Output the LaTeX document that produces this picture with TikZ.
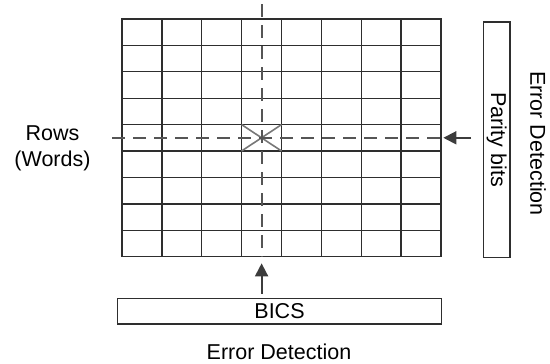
\documentclass[tikz,border=0pt]{standalone}
\usepackage{fontspec}
\setmainfont{Liberation Sans}
\usetikzlibrary{arrows.meta}
\definecolor{gridc}{HTML}{2E2E2E}
\definecolor{dashc}{HTML}{555555}
\definecolor{xc}{HTML}{777777}
\definecolor{arrc}{HTML}{3C3C3C}
\begin{document}
\begin{tikzpicture}[x=1pt,y=-1pt,
  gridline/.style={draw=gridc, line width=1.3pt},
  dashline/.style={draw=dashc, line width=1.8pt, dash pattern=on 13pt off 8pt},
  xline/.style={draw=xc, line width=1.6pt},
  arr/.style={draw=arrc, line width=1.8pt, -{Triangle[length=13pt,width=13pt]}},
  box/.style={draw=gridc, line width=1.3pt, inner sep=0pt},
  lbl/.style={font=\fontsize{21.5}{26.3}\selectfont, inner sep=0pt, text=black}]
\useasboundingbox (0,0) rectangle (550,364);
% grid
\node[box, minimum width=319pt, minimum height=237.7pt] (grid) at (281.5,137.85) {};
\foreach \i in {1,...,7}
  \draw[gridline] ({122+\i*39.875},19) -- ({122+\i*39.875},256.7);
\foreach \j in {1,...,8}
  \draw[gridline] (122,{19+\j*26.411}) -- (441,{19+\j*26.411});
% crossing mark
\coordinate (c1) at (241.6,124.6);
\coordinate (c2) at (281.5,151.0);
\coordinate (c3) at (241.6,151.0);
\coordinate (c4) at (281.5,124.6);
\draw[xline] (c1) -- (c2);
\draw[xline] (c3) -- (c4);
% dashed lines
\coordinate (vtop) at (261.6,4);
\coordinate (hleft) at (112,137.8);
\draw[dashline] (vtop) -- (vtop |- grid.south);
\draw[dashline] (hleft) -- (hleft -| grid.east);
% BICS
\node[box, lbl, minimum width=324.4pt, minimum height=25.7pt] (bics) at (279.5,311) {BICS};
\draw[arr, shorten <=4pt, shorten >=6pt] (bics.north -| vtop) -- (grid.south -| vtop);
% parity
\node[box, minimum width=26.7pt, minimum height=235.3pt] (parity) at (496.7,139.7) {};
\node[lbl, rotate=-90] (ptext) at (parity) {Parity bits};
\draw[arr, shorten <=11.6pt, shorten >=1.7pt] (parity.west |- hleft) -- (grid.east |- hleft);
% labels
\node[lbl, align=center] (rows) at (52.5,148) {Rows\\(Words)};
\node[lbl] (edbot) at (279,352) {Error Detection};
\node[lbl, rotate=-90] (edright) at (538,143.5) {Error Detection};
\end{tikzpicture}
\end{document}
